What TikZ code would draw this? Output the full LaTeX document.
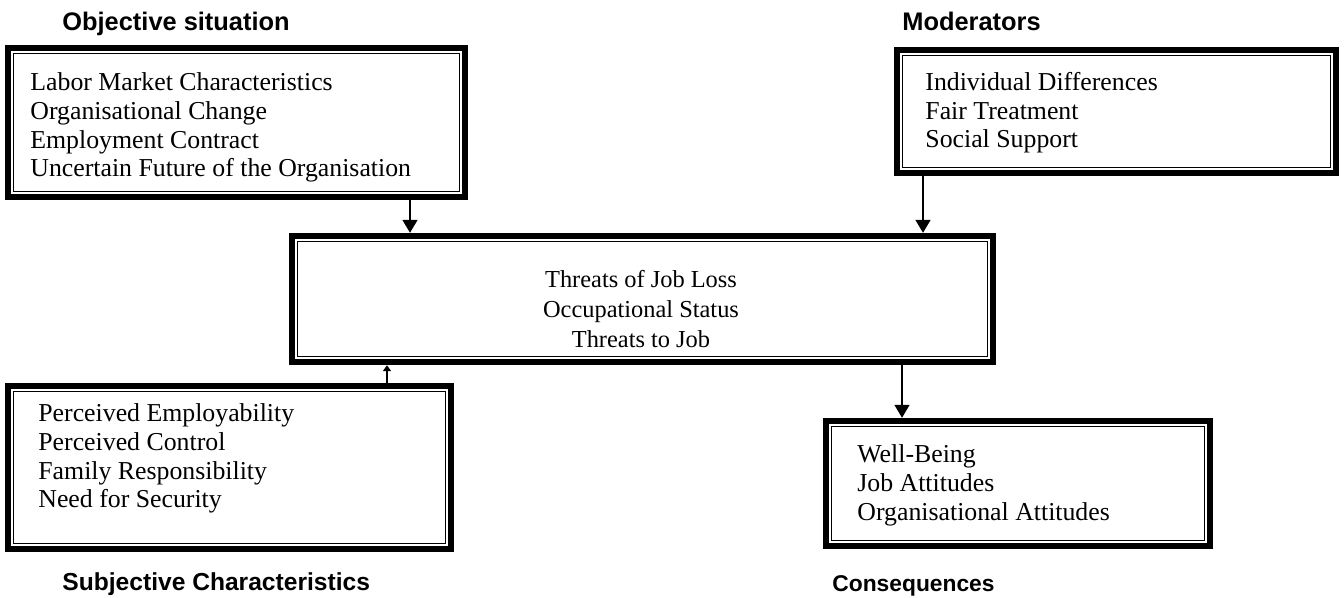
\documentclass[tikz,border=0pt]{standalone}
\usepackage{fontspec}
\setmainfont{Liberation Serif}
\newfontfamily\headfont{Liberation Sans}
\usetikzlibrary{fit,calc,arrows.meta}
\tikzset{
  boxx/.style={draw, line width=3.2pt, inner sep=0pt, rectangle},
  innerline/.style={line width=0.7pt},
  boxtext/.style={anchor=base west, align=left, inner sep=0pt,
    font=\fontsize{12.9}{14.35}\selectfont},
  headtext/.style={anchor=base west, inner sep=0pt,
    font=\headfont\bfseries\fontsize{12.7}{14}\selectfont},
  arr/.style={line width=0.8pt, -{Triangle[width=7.5pt,length=6.5pt]}},
  smallarr/.style={line width=0.8pt, -{Triangle[width=4pt,length=3pt]}}
}
\begin{document}
\begin{tikzpicture}[x=0.5pt,y=-0.5pt]
\useasboundingbox (0,0) rectangle (1344,598);
% boxes
\node[boxx, fit={(8,48) (465,197)}] (obj) {};
\node[boxx, fit={(897,50) (1336,173)}] (mod) {};
\node[boxx, fit={(292,236) (993,362)}] (ctr) {};
\node[boxx, fit={(8,386) (451,549)}] (subj) {};
\node[boxx, fit={(826,421) (1210,546)}] (cons) {};
\foreach \n in {obj,mod,ctr,subj,cons}
  \draw[innerline] ($(\n.south west)+(4.35pt,4.35pt)$) rectangle ($(\n.north east)+(-4.35pt,-4.35pt)$);
% headers
\node[headtext] (hobj) at (62,31) {Objective situation};
\node[headtext] (hmod) at (902,31) {Moderators};
\node[headtext, font=\headfont\bfseries\fontsize{12.3}{14}\selectfont] (hsubj) at (62,590) {Subjective Characteristics};
\node[headtext, font=\headfont\bfseries\fontsize{11.4}{14}\selectfont] (hcons) at (832,591) {Consequences};
% texts (anchored at the baseline of the last line)
\node[boxtext] (tobj) at (30,177) {Labor Market Characteristics\\Organisational Change\\Employment Contract\\Uncertain Future of the Organisation};
\node[boxtext] (tmod) at (925,148) {Individual Differences\\Fair Treatment\\Social Support};
\node[anchor=base, align=center, inner sep=0pt, font=\fontsize{12.2}{15}\selectfont] (tctr) at (641,348) {Threats of Job Loss\\Occupational Status\\Threats to Job};
\node[boxtext] (tsubj) at (38,508) {Perceived Employability\\Perceived Control\\Family Responsibility\\Need for Security};
\node[boxtext] (tcons) at (857,520) {Well-Being\\Job Attitudes\\Organisational Attitudes};
% connectors
\coordinate (xa) at (410,0);
\coordinate (xb) at (923,0);
\coordinate (xc) at (902,0);
\coordinate (xd) at (387,0);
\draw[arr] (obj.south -| xa) -- (ctr.north -| xa);
\draw[arr] (mod.south -| xb) -- (ctr.north -| xb);
\draw[arr] (ctr.south -| xc) -- (cons.north -| xc);
\draw[smallarr] (subj.north -| xd) -- (ctr.south -| xd);
\end{tikzpicture}
\end{document}
